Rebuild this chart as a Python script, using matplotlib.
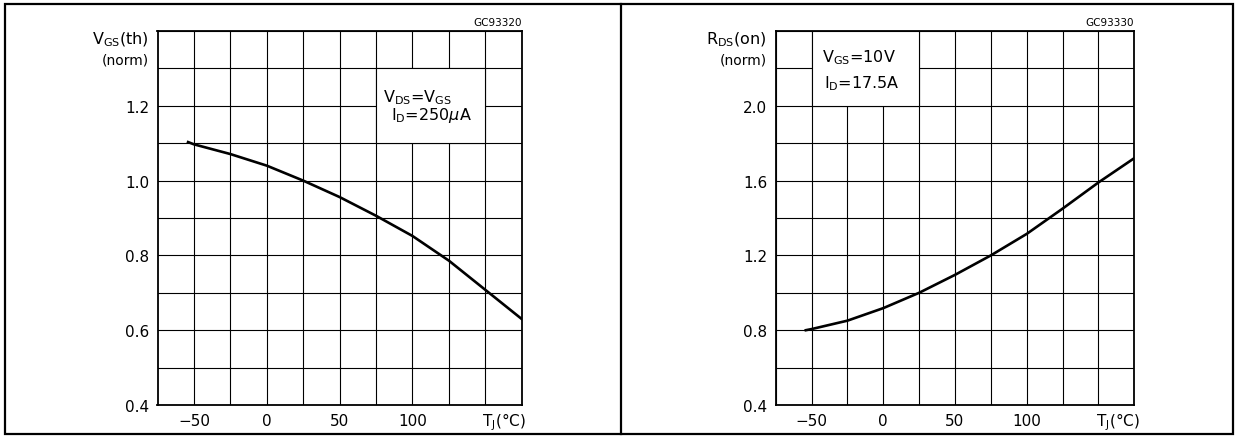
import matplotlib.pyplot as plt
from matplotlib.patches import Rectangle
from matplotlib.lines import Line2D
import numpy as np

# curve readings (temperature in degC)
vth_temp = [-54, -50, -25, 0, 25, 50, 75, 100, 125, 150, 175]
vth_norm = [1.103, 1.097, 1.071, 1.040, 1.000, 0.956, 0.906, 0.852, 0.786, 0.708, 0.630]

rds_temp = [-54, -50, -25, 0, 25, 50, 75, 100, 125, 150, 175]
rds_norm = [0.800, 0.806, 0.851, 0.918, 1.000, 1.096, 1.200, 1.315, 1.450, 1.590, 1.720]

x_grid = np.arange(-75, 176, 25)
x_labels = ["", "\u221250", "", "0", "", "50", "", "100", "", "", ""]

vth_grid = np.round(np.arange(0.4, 1.41, 0.1), 2)
vth_labels = ["0.4", "", "0.6", "", "0.8", "", "1.0", "", "1.2", "", ""]
rds_grid = np.round(np.arange(0.4, 2.41, 0.2), 2)
rds_labels = ["0.4", "", "0.8", "", "1.2", "", "1.6", "", "2.0", "", ""]

W, H = 1237, 439
fig = plt.figure(figsize=(W / 100, H / 100), dpi=100)
fs = 10.5


def px(x0, y0, x1, y1):
    return [x0 / W, 1 - y1 / H, (x1 - x0) / W, (y1 - y0) / H]


def setup(ax, ygrid, ylabels, ylim):
    ax.set_xlim(-75, 175)
    ax.set_ylim(*ylim)
    ax.set_xticks(x_grid)
    ax.set_xticklabels(x_labels, fontsize=fs + 0.5)
    ax.set_yticks(ygrid)
    ax.set_yticklabels(ylabels, fontsize=fs + 0.5)
    ax.tick_params(length=0, pad=6)
    ax.grid(True, color="black", linewidth=0.8)
    ax.set_axisbelow(True)
    for s in ax.spines.values():
        s.set_linewidth(1.3)
    ax.text(148, -0.014, r"T$_\mathregular{J}$(°C)", transform=ax.get_xaxis_transform(),
            ha="left", va="top", fontsize=fs + 0.5)


# left panel
ax1 = fig.add_axes(px(157.5, 32, 521.7, 406))
setup(ax1, vth_grid, vth_labels, (0.4, 1.4))
ax1.add_patch(Rectangle((75, 1.1), 75, 0.2, facecolor="white", edgecolor="black",
                        linewidth=0.8, zorder=1.5))
ax1.plot(vth_temp, vth_norm, color="black", linewidth=1.9, zorder=3)
ax1.text(80, 1.224, r"V$_\mathregular{DS}$=V$_\mathregular{GS}$", ha="left", va="center", fontsize=fs + 1)
ax1.text(85.5, 1.177, r"I$_\mathregular{D}$=250$\mu$A", ha="left", va="center", fontsize=fs + 1)
ax1.text(-0.025, 0.978, r"V$_\mathregular{GS}$(th)", transform=ax1.transAxes, ha="right", va="center", fontsize=fs + 1)
ax1.text(-0.025, 0.925, "(norm)", transform=ax1.transAxes, ha="right", va="center", fontsize=fs - 0.5)
ax1.text(1.0, 1.012, "GC93320", transform=ax1.transAxes, ha="right", va="bottom", fontsize=7.5)

# right panel
ax2 = fig.add_axes(px(775.7, 32, 1134.3, 406))
setup(ax2, rds_grid, rds_labels, (0.4, 2.4))
ax2.add_patch(Rectangle((-50, 2.0), 75, 0.4, facecolor="white", edgecolor="black",
                        linewidth=0.8, zorder=1.5))
ax2.plot(rds_temp, rds_norm, color="black", linewidth=1.9, zorder=3)
ax2.text(-43, 2.264, r"V$_\mathregular{GS}$=10V", ha="left", va="center", fontsize=fs + 1)
ax2.text(-41, 2.125, r"I$_\mathregular{D}$=17.5A", ha="left", va="center", fontsize=fs + 1)
ax2.text(-0.025, 0.978, r"R$_\mathregular{DS}$(on)", transform=ax2.transAxes, ha="right", va="center", fontsize=fs + 1)
ax2.text(-0.025, 0.925, "(norm)", transform=ax2.transAxes, ha="right", va="center", fontsize=fs - 0.5)
ax2.text(1.0, 1.012, "GC93330", transform=ax2.transAxes, ha="right", va="bottom", fontsize=7.5)

# outer frame and divider
fig.patches.append(Rectangle((5 / W, 1 - 435 / H), 1228 / W, 430 / H, transform=fig.transFigure,
                             fill=False, edgecolor="black", linewidth=1.6))
fig.lines.append(Line2D([621 / W, 621 / W], [1 - 435 / H, 1 - 5 / H], transform=fig.transFigure,
                        color="black", linewidth=1.6))

fig.savefig("out.png", dpi=100)
